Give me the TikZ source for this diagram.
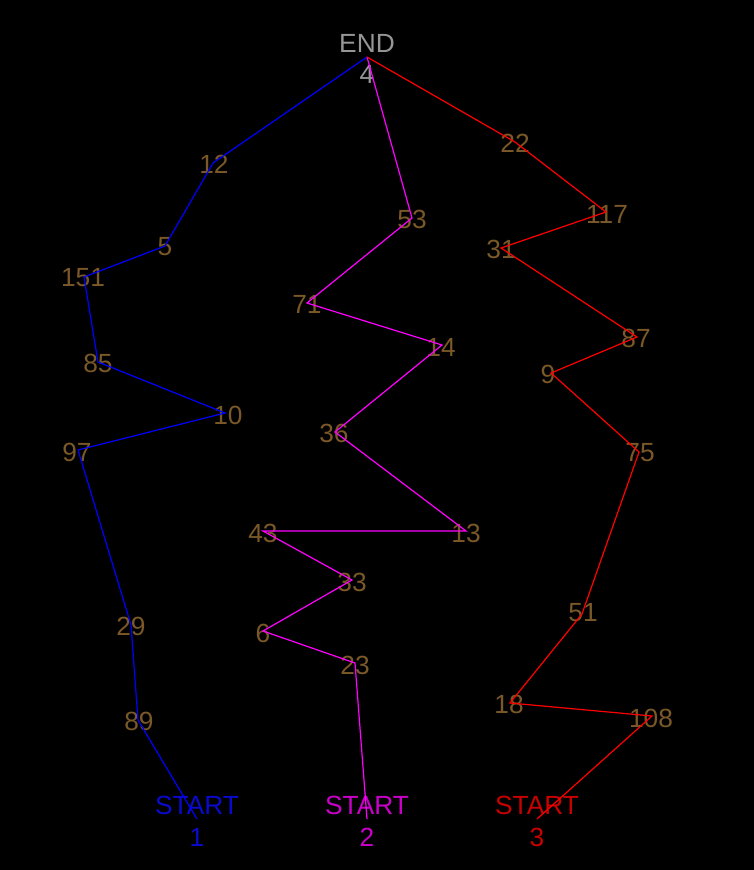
\documentclass[tikz,border=0pt]{standalone}
\usepackage{fontspec}
\setmainfont{Liberation Sans}
\definecolor{labbrown}{RGB}{122,88,40}
\definecolor{endgrey}{RGB}{150,150,150}
\definecolor{bluetxt}{RGB}{10,10,205}
\definecolor{magtxt}{RGB}{200,0,200}
\definecolor{redtxt}{RGB}{200,0,0}
\tikzset{
  lab/.style={text=labbrown, font=\fontsize{26.3}{28}\selectfont, inner sep=0pt, anchor=center},
  endlab/.style={text=endgrey, font=\fontsize{26.3}{28}\selectfont, inner sep=0pt, anchor=center},
  startlab/.style={font=\fontsize{26.3}{28}\selectfont, inner sep=0pt, anchor=center},
  bluepath/.style={draw={rgb,255:red,0;green,0;blue,255}, line width=1.2pt},
  magpath/.style={draw={rgb,255:red,255;green,0;blue,255}, line width=1.2pt},
  redpath/.style={draw={rgb,255:red,255;green,0;blue,0}, line width=1.2pt},
}
\begin{document}
\begin{tikzpicture}[x=1pt,y=-1pt]
\fill[black] (0,0) rectangle (754,870);
\useasboundingbox (0,0) rectangle (754,870);
% vertices
\coordinate (E) at (367,57);
\coordinate (b12) at (213,163);
\coordinate (b5) at (165,246);
\coordinate (b151) at (84,277);
\coordinate (b85) at (98,362);
\coordinate (b10) at (225,413);
\coordinate (b97) at (78,450);
\coordinate (b29) at (131,625);
\coordinate (b89) at (138,720);
\coordinate (S1) at (197,819);
\coordinate (m53) at (412,218);
\coordinate (m71) at (307,303);
\coordinate (m14) at (442,345);
\coordinate (m36) at (335,432);
\coordinate (m13) at (466,531);
\coordinate (m43) at (263,531);
\coordinate (m33) at (352,580);
\coordinate (m6) at (263,631);
\coordinate (m23) at (355,663);
\coordinate (S2) at (367,819);
\coordinate (r22) at (515,142);
\coordinate (r117) at (606,212);
\coordinate (r31) at (501,248);
\coordinate (r87) at (637,337);
\coordinate (r9) at (551,373);
\coordinate (r75) at (639,452);
\coordinate (r51) at (582,614);
\coordinate (r18) at (510,703);
\coordinate (r108) at (652,716);
\coordinate (S3) at (537,819);
% labels
\node[endlab] (lend) at (367,43) {END};
\node[endlab] (l4) at (367,74) {4};
\node[lab] (l12) at (214,164) {12};
\node[lab] (l5) at (165,247) {5};
\node[lab] (l151) at (83,278) {151};
\node[lab] (l85) at (98,363) {85};
\node[lab] (l10) at (228,415) {10};
\node[lab] (l97) at (77,452) {97};
\node[lab] (l29) at (131,626) {29};
\node[lab] (l89) at (139,721) {89};
\node[lab] (l53) at (412,219) {53};
\node[lab] (l71) at (307,304) {71};
\node[lab] (l14) at (441,347) {14};
\node[lab] (l36) at (334,433) {36};
\node[lab] (l13) at (466,533) {13};
\node[lab] (l43) at (263,533) {43};
\node[lab] (l33) at (352,582) {33};
\node[lab] (l6) at (263,633) {6};
\node[lab] (l23) at (355,665) {23};
\node[lab] (l22) at (515,143) {22};
\node[lab] (l117) at (607,214) {117};
\node[lab] (l31) at (501,249) {31};
\node[lab] (l87) at (636,338) {87};
\node[lab] (l9) at (548,374) {9};
\node[lab] (l75) at (640,453) {75};
\node[lab] (l51) at (583,613) {51};
\node[lab] (l18) at (509,704) {18};
\node[lab] (l108) at (651,718) {108};
\node[startlab, text=bluetxt] (ls1) at (197,805) {START};
\node[startlab, text=bluetxt] (ln1) at (197,837) {1};
\node[startlab, text=magtxt] (ls2) at (367,805) {START};
\node[startlab, text=magtxt] (ln2) at (367,837) {2};
\node[startlab, text=redtxt] (ls3) at (537,805) {START};
\node[startlab, text=redtxt] (ln3) at (537,837) {3};
% paths
\draw[bluepath] (E) -- (b12) -- (b5) -- (b151) -- (b85) -- (b10) -- (b97) -- (b29) -- (b89) -- (S1);
\draw[magpath] (E) -- (m53) -- (m71) -- (m14) -- (m36) -- (m13) -- (m43) -- (m33) -- (m6) -- (m23) -- (S2);
\draw[redpath] (E) -- (r22) -- (r117) -- (r31) -- (r87) -- (r9) -- (r75) -- (r51) -- (r18) -- (r108) -- (S3);
\end{tikzpicture}
\end{document}
